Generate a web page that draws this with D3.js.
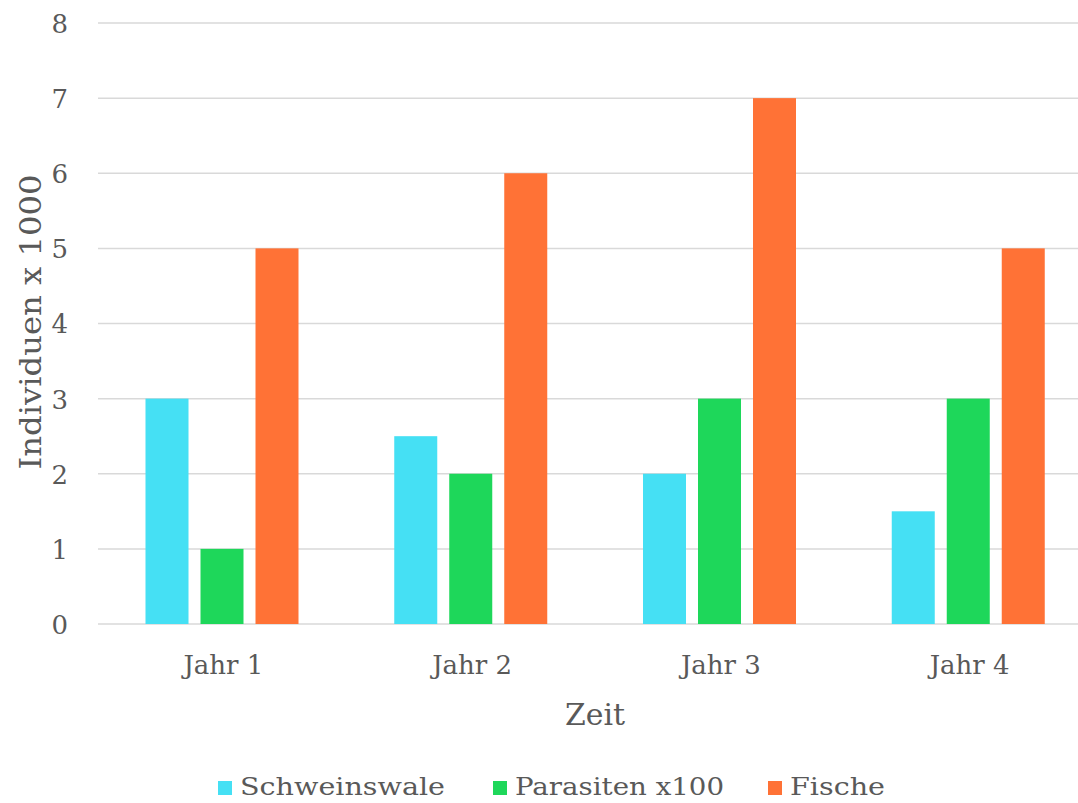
<!DOCTYPE html>
<html><head><meta charset="utf-8">
<script src="https://cdn.jsdelivr.net/npm/d3@7"></script>
<style>body{margin:0;background:#fff}svg{display:block}text{font-family:"DejaVu Serif",serif;fill:#595959}</style>
</head><body><svg id="c" width="1078" height="803"></svg>
<script>
const categories = ["Jahr 1","Jahr 2","Jahr 3","Jahr 4"];
const seriesNames = ["Schweinswale","Parasiten x100","Fische"];
const schweinswale = [3, 2.5, 2, 1.5];
const parasiten = [1, 2, 3, 3];
const fische = [5, 6, 7, 5];
const yTicks = [0,1,2,3,4,5,6,7,8];
const colors = ["#45E0F4","#1ED75A","#FF7236"];
const seriesValues = [schweinswale, parasiten, fische];

const svg = d3.select("#c");
const x = d3.scaleBand().domain(categories).range([98, 1093]);
const y = d3.scaleLinear().domain([0,8]).range([624, 23]);
const inner = d3.scaleBand().domain(seriesNames).range([48, 201]).paddingInner(12/55).paddingOuter(0);

svg.append("g").selectAll("line").data(yTicks).join("line")
  .attr("x1", 98).attr("x2", 1093)
  .attr("y1", d=>y(d)).attr("y2", d=>y(d))
  .attr("stroke", "#d9d9d9").attr("stroke-width", 1.5);

const yAxis = d3.axisLeft(y).tickValues(yTicks).tickSize(0).tickPadding(0);
const ya = svg.append("g").attr("transform","translate(68,0)").call(yAxis);
ya.select(".domain").remove();
ya.selectAll("text").style("font-size","26px").attr("fill","#595959").style("font-family","DejaVu Serif").attr("dy","0.36em");

seriesValues.forEach((vals, si) => {
  svg.append("g").selectAll("rect").data(categories).join("rect")
    .attr("x", (c)=> x(c) + inner(seriesNames[si]) - 0.5)
    .attr("width", inner.bandwidth())
    .attr("y", (c,i)=> y(vals[i]))
    .attr("height", (c,i)=> y(0)-y(vals[i]))
    .attr("fill", colors[si]);
});

const xAxis = d3.axisBottom(x).tickSize(0).tickPadding(0);
const xa = svg.append("g").call(xAxis);
xa.select(".domain").remove();
xa.selectAll("text").style("font-size","26px").attr("fill","#595959").style("font-family","DejaVu Serif")
  .attr("dy",null).attr("y",674).attr("x",1).attr("textLength",80).attr("lengthAdjust","spacingAndGlyphs");

svg.append("text").attr("x", 595).attr("y", 725).attr("text-anchor","middle").style("font-size","29px")
  .attr("textLength",60).attr("lengthAdjust","spacingAndGlyphs").text("Zeit");
svg.append("text").attr("transform","translate(41,322) rotate(-90)").attr("text-anchor","middle").style("font-size","29px")
  .attr("textLength",295).attr("lengthAdjust","spacingAndGlyphs").text("Individuen x 1000");

const legX = [218, 493, 768];
const legW = [205, 209, 95];
const lg = svg.append("g").selectAll("g").data(seriesNames).join("g")
  .attr("transform", (d,i)=>`translate(${legX[i]},781)`);
lg.append("rect").attr("width",14).attr("height",14).attr("fill",(d,i)=>colors[i]);
lg.append("text").attr("x",22).attr("y",14).style("font-size","25px")
  .attr("textLength",(d,i)=>legW[i]).attr("lengthAdjust","spacingAndGlyphs").text(d=>d);
</script></body></html>
